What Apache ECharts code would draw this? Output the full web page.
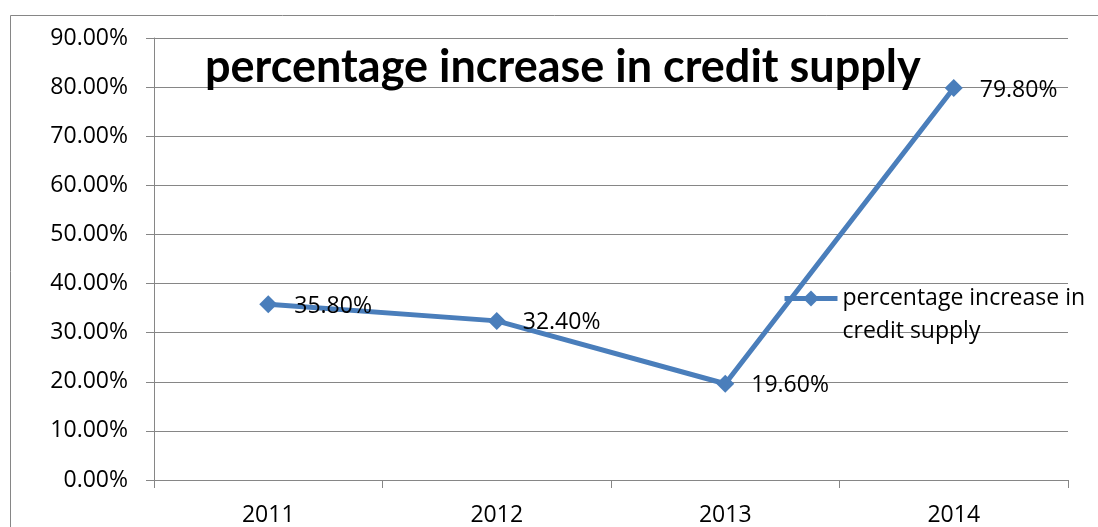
<!DOCTYPE html>
<html><head><meta charset="utf-8">
<script src="https://cdn.jsdelivr.net/npm/echarts@6/dist/echarts.min.js"></script>
<style>html,body{margin:0;padding:0;background:#fff}#c{width:1098px;height:527px}</style>
</head><body><div id="c"></div>
<script>
const categories = ['2011', '2012', '2013', '2014'];
const seriesValues = [35.8, 32.4, 19.6, 79.8];
const seriesName = 'percentage increase in credit supply';
const titleText = 'percentage increase in credit supply';
const yTicks = [0, 10, 20, 30, 40, 50, 60, 70, 80, 90];

const FONT = 'Open Sans';
const chart = echarts.init(document.getElementById('c'));
chart.setOption({
  animation: false,
  backgroundColor: '#fff',
  graphic: [{
    type: 'rect', shape: {x: 10.5, y: 15.5, width: 1200, height: 600},
    style: {fill: 'none', stroke: '#868686', lineWidth: 1}, silent: true, z: -10
  }],
  title: {
    text: titleText, left: 200, top: 40,
    textStyle: {fontFamily: 'Lato', fontWeight: 'bold', fontSize: 45, color: '#000'}
  },
  legend: {
    left: 782, top: 249, padding: 0,
    itemWidth: 53, itemHeight: 20,
    lineStyle: {width: 5},
    formatter: () => '\npercentage increase in\ncredit supply',
    textStyle: {fontFamily: FONT, fontSize: 23, color: '#000', lineHeight: 33}
  },
  grid: {left: 154, right: 30, top: 38, bottom: 45},
  xAxis: {
    type: 'category', data: categories, boundaryGap: true,
    axisLine: {lineStyle: {color: '#868686', width: 1}},
    axisTick: {show: true, length: 8, lineStyle: {color: '#868686'}},
    axisLabel: {fontFamily: FONT, fontSize: 23, color: '#000', margin: 24}
  },
  yAxis: {
    type: 'value', min: yTicks[0], max: yTicks[yTicks.length - 1], interval: 10,
    axisLine: {show: true, lineStyle: {color: '#868686', width: 1}},
    axisTick: {show: true, length: 8, lineStyle: {color: '#868686'}},
    splitLine: {lineStyle: {color: '#868686', width: 1}},
    axisLabel: {fontFamily: FONT, fontSize: 23, color: '#000', margin: 26,
      formatter: v => v.toFixed(2) + '%'}
  },
  series: [{
    name: seriesName, type: 'line', data: seriesValues,
    symbol: 'diamond', symbolSize: 18,
    lineStyle: {color: '#4a7ebb', width: 5},
    itemStyle: {color: '#4a7ebb'},
    label: {show: true, position: 'right', distance: 17, offset: [0, 2],
      fontFamily: FONT, fontSize: 23, color: '#000',
      formatter: p => p.value.toFixed(2) + '%'}
  }]
});
</script></body></html>
